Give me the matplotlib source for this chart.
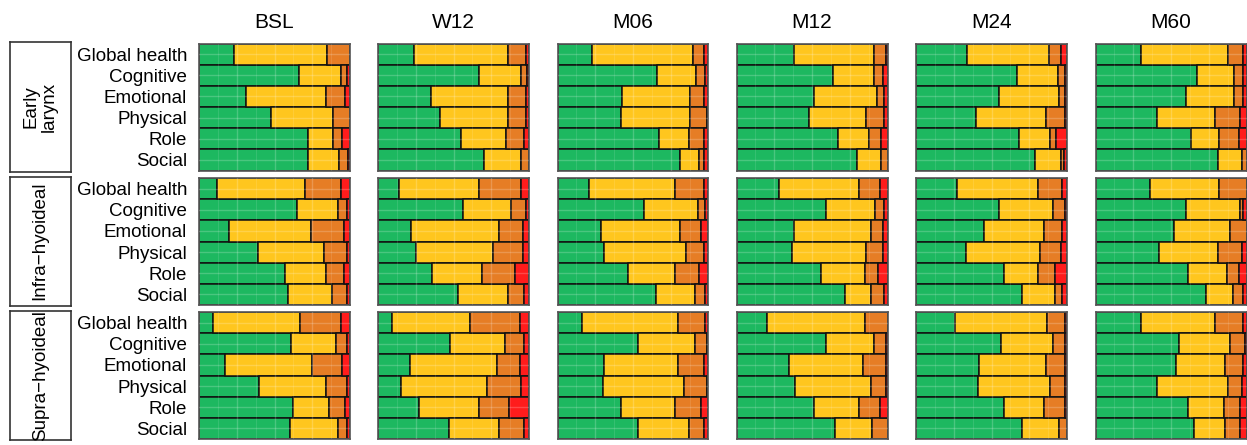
import numpy as np
import matplotlib.pyplot as plt

plt.rcParams['font.family'] = ['Liberation Sans', 'DejaVu Sans']

domains = ["Global health", "Cognitive", "Emotional", "Physical", "Role", "Social"]
timepoints = ["BSL", "W12", "M06", "M12", "M24", "M60"]
groups = ["Early\nlarynx", "Infra\u2212hyoideal", "Supra\u2212hyoideal"]

# share of patients per response level (%): good, moderate, poor, very poor
# one row per domain, in the order of `domains`
early_larynx = {
    "BSL": [[23, 62, 15, 0], [66, 28, 4, 2], [31, 53, 13, 3], [48, 41, 11, 0], [72, 17, 6, 5], [72, 21, 6, 1]],
    "W12": [[24, 62, 12, 2], [67, 28, 4, 1], [35, 51, 12, 2], [41, 45, 12, 2], [55, 30, 12, 3], [70, 25, 5, 0]],
    "M06": [[23, 67, 7, 3], [66, 26, 6, 2], [43, 45, 9, 3], [42, 46, 11, 1], [67, 20, 10, 3], [81, 13, 3, 3]],
    "M12": [[38, 53, 8, 1], [64, 27, 6, 3], [51, 42, 5, 2], [48, 38, 12, 2], [67, 21, 8, 4], [80, 16, 4, 0]],
    "M24": [[34, 54, 8, 4], [67, 27, 5, 1], [55, 40, 4, 1], [40, 46, 13, 1], [68, 21, 4, 7], [79, 17, 2, 2]],
    "M60": [[30, 58, 10, 2], [67, 25, 6, 2], [60, 32, 6, 2], [41, 38, 17, 4], [63, 19, 13, 5], [81, 16, 3, 0]],
}
infra_hyoideal = {
    "BSL": [[12, 58, 24, 6], [65, 27, 6, 2], [20, 54, 22, 4], [39, 44, 15, 2], [57, 27, 12, 4], [59, 29, 10, 2]],
    "W12": [[14, 53, 28, 5], [56, 32, 10, 2], [22, 58, 16, 4], [25, 51, 20, 4], [36, 33, 22, 9], [53, 33, 11, 3]],
    "M06": [[21, 57, 19, 3], [57, 36, 5, 2], [29, 52, 14, 5], [31, 54, 12, 3], [47, 31, 16, 6], [65, 26, 7, 2]],
    "M12": [[28, 53, 14, 5], [59, 33, 6, 2], [38, 51, 8, 3], [37, 49, 11, 3], [56, 29, 9, 6], [72, 17, 9, 2]],
    "M24": [[27, 54, 16, 3], [55, 36, 8, 1], [45, 40, 12, 3], [33, 49, 14, 4], [58, 23, 11, 8], [70, 22, 5, 3]],
    "M60": [[36, 46, 18, 0], [60, 36, 2, 2], [52, 37, 11, 0], [42, 39, 16, 3], [61, 26, 8, 5], [73, 18, 7, 2]],
}
supra_hyoideal = {
    "BSL": [[9, 58, 27, 6], [61, 30, 7, 2], [17, 58, 20, 5], [40, 44, 14, 2], [62, 24, 11, 3], [60, 32, 6, 2]],
    "W12": [[9, 52, 33, 6], [48, 36, 13, 3], [21, 58, 15, 6], [15, 57, 23, 5], [27, 40, 20, 13], [47, 33, 17, 3]],
    "M06": [[16, 64, 18, 2], [53, 38, 8, 1], [31, 49, 17, 3], [30, 54, 15, 1], [42, 36, 17, 5], [53, 34, 10, 3]],
    "M12": [[20, 65, 15, 0], [59, 32, 8, 1], [35, 49, 15, 1], [39, 50, 10, 1], [51, 30, 14, 5], [65, 25, 10, 0]],
    "M24": [[26, 61, 12, 1], [56, 35, 8, 1], [42, 44, 13, 1], [41, 48, 10, 1], [58, 27, 14, 1], [70, 25, 5, 0]],
    "M60": [[30, 49, 19, 2], [55, 34, 10, 1], [53, 33, 12, 2], [41, 47, 9, 3], [61, 24, 11, 4], [65, 21, 10, 4]],
}
group_data = [early_larynx, infra_hyoideal, supra_hyoideal]

level_colors = ['#1db860', '#ffc61e', '#e67d25', '#ff1c1c']

W, H = 1247, 445
fig = plt.figure(figsize=(W / 100, H / 100), dpi=100)

# panel placement in pixels
col_left = [199, 378, 557.5, 736.5, 916, 1095.5]
row_top = [43.5, 178, 312]
pw, ph = 151, 127


def rect(x, top, w, h):
    return [x / W, 1 - (top + h) / H, w / W, h / H]


ypos = np.arange(len(domains))

for r, data in enumerate(group_data):
    # strip label on the left
    sax = fig.add_axes(rect(10, row_top[r] - 1.5, 60.5, ph + 2.5))
    sax.set_xticks([])
    sax.set_yticks([])
    for s in sax.spines.values():
        s.set_color('#333333')
        s.set_linewidth(1.2)
    sax.text(0.5, 0.5, groups[r], rotation=90, ha='center', va='center',
             fontsize=13.5, linespacing=1.1, transform=sax.transAxes)

    for c, tp in enumerate(timepoints):
        ax = fig.add_axes(rect(col_left[c], row_top[r], pw, ph))
        vals = np.array(data[tp], dtype=float)
        vals = vals / vals.sum(axis=1, keepdims=True)
        left = np.zeros(len(domains))
        for k in range(vals.shape[1]):
            ax.barh(ypos, vals[:, k], left=left, height=1.0,
                    color=level_colors[k], edgecolor='#111111', linewidth=1.1, zorder=2)
            left += vals[:, k]

        # faint white grid showing over the bars
        for i, gx in enumerate(np.arange(0.125, 1.0, 0.125)):
            ax.axvline(gx, color='white', lw=1.0 if i % 2 else 0.6,
                       alpha=0.2 if i % 2 else 0.13, zorder=3)
        for gy in ypos:
            ax.axhline(gy, color='white', lw=1.0, alpha=0.2, zorder=3)

        ax.set_xlim(0, 1)
        ax.set_ylim(len(domains) - 0.5, -0.5)
        ax.set_xticks([])
        ax.set_yticks(ypos)
        if c == 0:
            ax.set_yticklabels(domains, fontsize=13.5)
            ax.tick_params(axis='y', length=0, pad=8.5)
        else:
            ax.set_yticklabels([])
            ax.tick_params(axis='y', length=0)
        for s in ax.spines.values():
            s.set_color('#555555')
            s.set_linewidth(1.2)
        if r == 0:
            ax.set_title(tp, fontsize=15, pad=11)

fig.savefig('out.png', dpi=100)
